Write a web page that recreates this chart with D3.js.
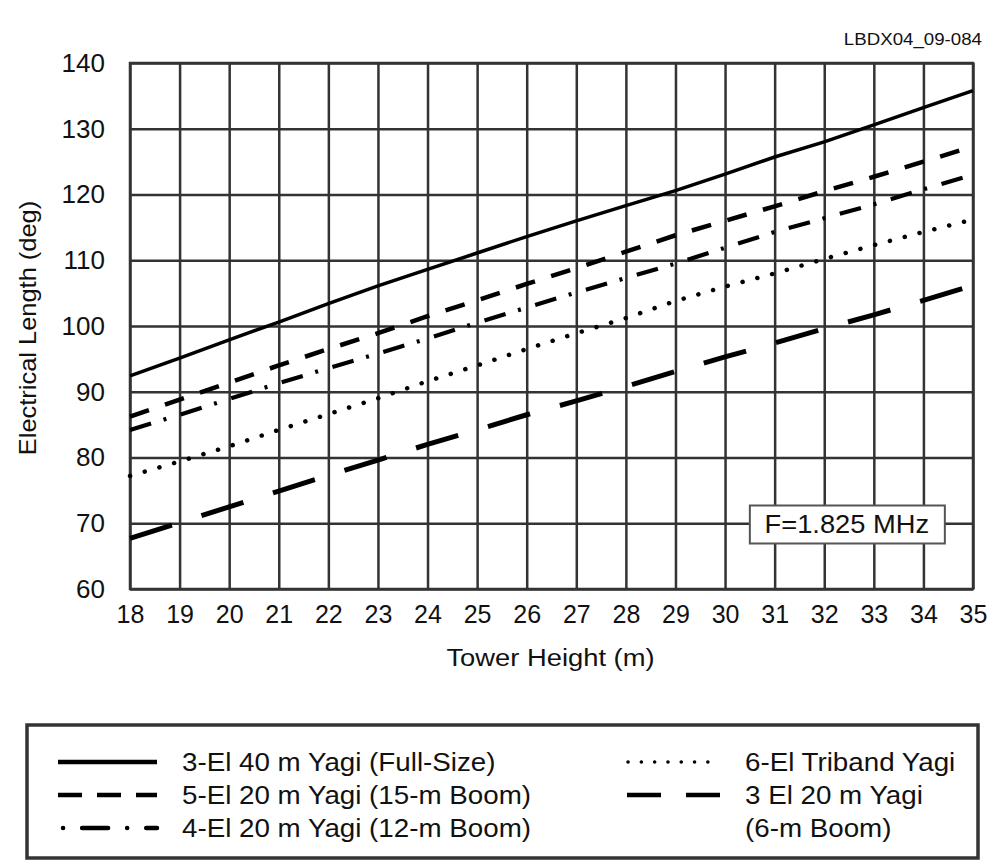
<!DOCTYPE html>
<html>
<head>
<meta charset="utf-8">
<script src="https://cdn.jsdelivr.net/npm/d3@7"></script>
<style>
  body { margin: 0; background: #fff; }
  svg { display: block; font-family: "Liberation Sans", Arial, sans-serif; }
</style>
</head>
<body>
<svg id="chart" width="991" height="860"></svg>
<script>
// tower height (m)
var heights = [18, 19, 20, 21, 22, 23, 24, 25, 26, 27, 28, 29, 30, 31, 32, 33, 34, 35]
// electrical length (deg)
var yagi3El40m = [92.4, 95.1, 97.9, 100.6, 103.4, 106.1, 108.6, 111.1, 113.6, 116.0, 118.3, 120.6, 123.1, 125.7, 128.0, 130.6, 133.2, 135.8]
var yagi5El15m = [86.2, 88.8, 91.4, 94.0, 96.5, 98.9, 101.5, 103.9, 106.4, 108.8, 111.3, 113.8, 116.0, 118.2, 120.5, 122.7, 125.0, 127.3]
var yagi4El12m = [84.2, 86.5, 88.9, 91.3, 93.6, 95.8, 98.1, 100.5, 102.8, 105.1, 107.3, 109.5, 111.9, 114.3, 116.4, 118.5, 120.8, 123.0]
var triband6El = [77.2, 79.4, 81.7, 84.2, 86.6, 89.0, 91.6, 94.0, 96.5, 98.9, 101.2, 103.8, 106.0, 108.0, 110.2, 112.3, 114.3, 116.2]
var yagi3El6m = [67.7, 70.1, 72.5, 74.9, 77.3, 79.6, 82.0, 84.2, 86.5, 88.6, 90.8, 93.1, 95.3, 97.4, 99.6, 101.7, 103.9, 106.2]
var yTicks = [60, 70, 80, 90, 100, 110, 120, 130, 140]

var series = [
  {name: '3-El 40 m Yagi (Full-Size)', values: yagi3El40m, dash: null, width: 3.5, cap: 'butt'},
  {name: '5-El 20 m Yagi (15-m Boom)', values: yagi5El15m, dash: '20,17', width: 4.5, cap: 'butt'},
  {name: '4-El 20 m Yagi (12-m Boom)', values: yagi4El12m, dash: '22,13,3,15', width: 4.2, cap: 'butt'},
  {name: '6-El Triband Yagi', values: triband6El, dash: '0.1,15.2', width: 4.5, cap: 'round'},
  {name: '3 El 20 m Yagi', name2: '(6-m Boom)', values: yagi3El6m, dash: '44,31', width: 5, cap: 'butt'}
]

var svg = d3.select('#chart')
var m = {left: 130, top: 63, right: 18, bottom: 271}
var w = 991 - m.left - m.right
var h = 860 - m.top - m.bottom
var g = svg.append('g').attr('transform', `translate(${m.left},${m.top})`)

var x = d3.scaleLinear().domain([18, 35]).range([0, w])
var y = d3.scaleLinear().domain([60, 140]).range([h, 0])

var gridColor = '#333'
var textColor = '#111'

// the scanned lettering is a little wider than Arial, so stretch it
function label (sel, tx, ty, str, size, sx, anchor, rot) {
  return sel.append('text')
      .attr('transform', `translate(${tx},${ty})` + (rot ? ` rotate(${rot})` : '') + ` scale(${sx},1)`)
      .attr('text-anchor', anchor || 'start')
      .attr('font-size', size)
      .attr('fill', textColor)
      .text(str)
}

// vertical grid + x labels
var xAx = g.append('g')
    .attr('transform', `translate(0,${h})`)
    .call(d3.axisBottom(x).tickValues(heights).tickSize(-h).tickPadding(16).tickFormat(d3.format('d')))
xAx.select('.domain').remove()
xAx.selectAll('line').attr('stroke', gridColor).attr('stroke-width', 2.5)
xAx.selectAll('text').attr('font-size', 25).attr('fill', textColor).attr('font-family', null)

// horizontal grid + y labels
var yAx = g.append('g')
    .call(d3.axisLeft(y).tickValues(yTicks).tickSize(-w).tickPadding(25))
yAx.select('.domain').remove()
yAx.selectAll('line').attr('stroke', gridColor).attr('stroke-width', 2.5)
yAx.selectAll('text').attr('font-size', 26).attr('fill', textColor).attr('font-family', null)

g.append('rect')
    .attr('width', w).attr('height', h)
    .attr('fill', 'none').attr('stroke', gridColor).attr('stroke-width', 2.5)

// curves
var line = d3.line()
    .x((d, i) => x(heights[i]))
    .y(d => y(d))

g.append('g').attr('class', 'lines')
    .selectAll('path')
    .data(series)
    .join('path')
    .attr('d', d => line(d.values))
    .attr('fill', 'none')
    .attr('stroke', '#000')
    .attr('stroke-width', d => d.width)
    .attr('stroke-dasharray', d => d.dash)
    .attr('stroke-linecap', d => d.cap)

// frequency note
var fx = x(30.5)
var fy = y(72.7)
g.append('rect')
    .attr('x', fx).attr('y', fy)
    .attr('width', 195).attr('height', 38)
    .attr('fill', '#fff').attr('stroke', '#555').attr('stroke-width', 2)
label(g, fx + 97, fy + 28, 'F=1.825 MHz', 26, 1.05, 'middle')

// axis titles
label(svg, m.left + w / 2 - 1, 666, 'Tower Height (m)', 24, 1.14, 'middle')
label(svg, 36, m.top + h / 2 + 2, 'Electrical Length (deg)', 24, 1.06, 'middle', -90)
label(svg, 982, 45, 'LBDX04_09-084', 17, 1.1, 'end')

// legend
var lg = svg.append('g')
lg.append('rect')
    .attr('x', 27).attr('y', 725)
    .attr('width', 951).attr('height', 133)
    .attr('fill', '#fff').attr('stroke', '#333').attr('stroke-width', 3.5)

var legendPos = [
  {x1: 58, x2: 157, tx: 182, y: 762},
  {x1: 58, x2: 157, tx: 182, y: 795},
  {x1: 58, x2: 157, tx: 182, y: 828},
  {x1: 628, x2: 720, tx: 745, y: 762},
  {x1: 627, x2: 722, tx: 745, y: 795}
]
var legendDash = [null, '24,15', '0.1,19,26,19', '0.1,13.2', '34,25']

var items = lg.selectAll('g.item')
    .data(series)
    .join('g')
    .attr('class', 'item')

items.append('line')
    .attr('x1', (d, i) => legendPos[i].x1 + (i === 2 ? 5 : 0))
    .attr('x2', (d, i) => legendPos[i].x2)
    .attr('y1', (d, i) => legendPos[i].y)
    .attr('y2', (d, i) => legendPos[i].y)
    .attr('stroke', '#000')
    .attr('stroke-width', (d, i) => i === 3 ? 3.5 : 4.5)
    .attr('stroke-dasharray', (d, i) => legendDash[i])
    .attr('stroke-linecap', (d, i) => (i === 2 || i === 3) ? 'round' : 'butt')

items.each(function (d, i) {
  var p = legendPos[i]
  label(d3.select(this), p.tx, p.y + 9, d.name, 25, 1.11)
  if (d.name2) label(d3.select(this), p.tx, 828 + 9, d.name2, 25, 1.11)
})
</script>
</body>
</html>
